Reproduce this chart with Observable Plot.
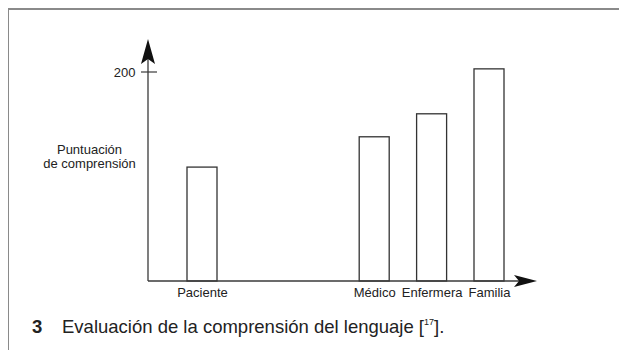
<!DOCTYPE html>
<html><head><meta charset="utf-8">
<script src="https://cdn.jsdelivr.net/npm/d3@7"></script>
<script src="https://cdn.jsdelivr.net/npm/@observablehq/plot@0.6"></script>
<style>
body{margin:0;background:#fff;font-family:"Liberation Sans",Arial,Helvetica,sans-serif;}
#wrap{position:relative;width:619px;height:350px;overflow:hidden;background:#fff;}
#border{position:absolute;left:8px;top:7.5px;width:700px;height:400px;border-left:1.5px solid #8a8a8a;border-top:2px solid #8a8a8a;}
#chart{position:absolute;left:0;top:0;}
.cap{position:absolute;top:316.5px;font-size:18.5px;line-height:20px;color:#222;white-space:nowrap;}
.cap sup{font-size:9px;vertical-align:8px;line-height:0;}
</style></head><body>
<div id="wrap"><div id="border"></div><div id="chart"></div>
<div class="cap" style="left:32px;font-weight:bold;">3</div>
<div class="cap" style="left:62px;">Evaluación de la comprensión del lenguaje [<sup>17</sup>].</div>
</div>
<script>
const categories = ["Paciente", "Médico", "Enfermera", "Familia"];
const scores = [109, 138, 160, 203];
const xSlots = ["Paciente", " ", "  ", "Médico", "Enfermera", "Familia"];
const yTicks = [200];
const yLabel = "Puntuación\nde comprensión";

const data = categories.map((c, i) => ({category: c, score: scores[i]}));

const axesMark = (index, scales, values, dims) => {
  const g = d3.create("svg:g");
  const x0 = dims.marginLeft, x1 = dims.width - dims.marginRight;
  const yb = scales.y(0), yt = dims.marginTop;
  const col = "#3a3a3a";
  g.append("line").attr("x1", x0).attr("x2", x0).attr("y1", yb).attr("y2", yt + 18)
    .attr("stroke", col).attr("stroke-width", 1.3);
  g.append("line").attr("x1", x0).attr("x2", x1 - 18).attr("y1", yb).attr("y2", yb)
    .attr("stroke", col).attr("stroke-width", 1.3);
  g.append("path").attr("d", `M${x0},${yt} L${x0 + 7},${yt + 25} L${x0},${yt + 20} L${x0 - 7},${yt + 25} Z`)
    .attr("fill", "#111");
  g.append("path").attr("d", `M${x1},${yb} L${x1 - 23},${yb - 6} L${x1 - 18},${yb} L${x1 - 23},${yb + 6} Z`)
    .attr("fill", "#111");
  for (const t of yTicks) {
    g.append("line").attr("x1", x0 - 7).attr("x2", x0 + 9).attr("y1", scales.y(t)).attr("y2", scales.y(t))
      .attr("stroke", col).attr("stroke-width", 1.2);
  }
  return g.node();
};

const chart = Plot.plot({
  width: 619,
  height: 305,
  marginLeft: 148,
  marginRight: 82,
  marginTop: 39,
  marginBottom: 24,
  style: {fontFamily: '"Liberation Sans", Arial, Helvetica, sans-serif', fontSize: "13px", color: "#222", background: "transparent"},
  x: {type: "band", domain: xSlots, range: [173.3, 517.7], padding: 0, round: false, label: null},
  y: {domain: [0, 200], range: [281, 72], label: null},
  marks: [
    Plot.barY(data, {x: "category", y: "score", fill: "white", stroke: "#333", strokeWidth: 1.3, insetLeft: 13.7, insetRight: 13.7}),
    axesMark,
    Plot.axisX({ticks: categories, tickSize: 0, tickPadding: 6, fontSize: 13, label: null,
      tickFormat: d => categories.includes(d) ? d : ""}),
    Plot.axisY({ticks: yTicks, tickSize: 0, tickPadding: 13, fontSize: 13, label: null}),
    Plot.text([yLabel], {text: d => d, frameAnchor: "left", dx: -59, dy: -4, textAnchor: "middle",
      lineAnchor: "middle", lineHeight: 1.08, fontSize: 13, fill: "#222"})
  ]
});
document.getElementById("chart").appendChild(chart);
</script>
</body></html>
